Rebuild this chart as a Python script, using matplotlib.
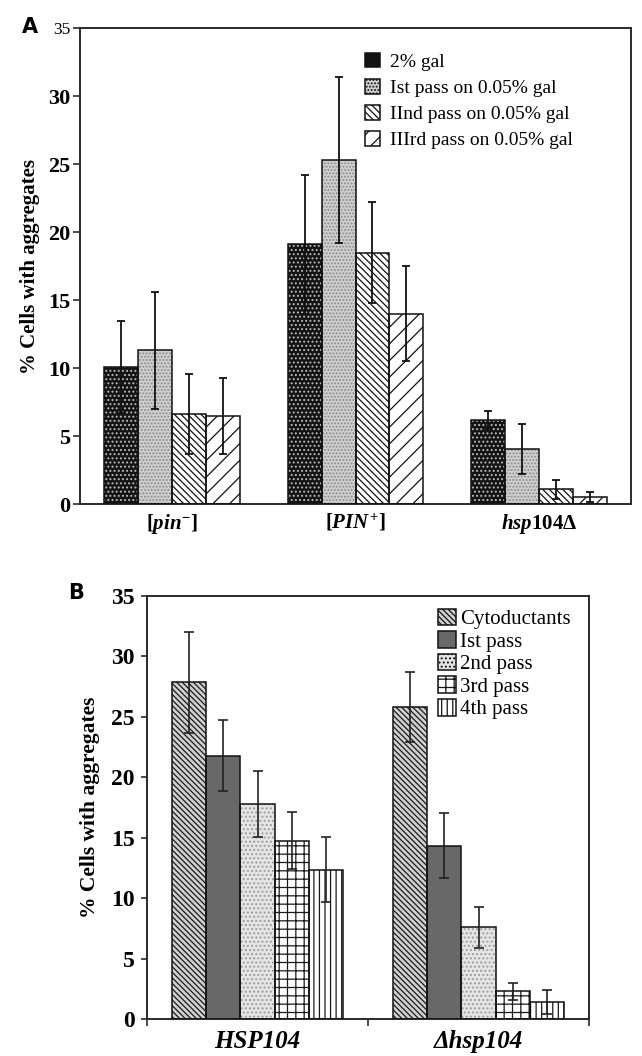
import matplotlib
matplotlib.use("Agg")
import matplotlib.pyplot as plt
import numpy as np

plt.rcParams['font.family'] = ['Liberation Serif', 'DejaVu Serif']
plt.rcParams['mathtext.fontset'] = 'custom'
plt.rcParams['mathtext.rm'] = 'Liberation Serif:bold'
plt.rcParams['mathtext.it'] = 'Liberation Serif:bold:italic'
plt.rcParams['mathtext.bf'] = 'Liberation Serif:bold'
plt.rcParams['hatch.linewidth'] = 0.9

# ---------------- Panel A data ----------------
a_groups = [r'[$\mathit{pin}^{-}$]', r'[$\mathit{PIN}^{+}$]', r'$\mathit{hsp104}$Δ']
a_series = ['2% gal', 'Ist pass on 0.05% gal', 'IInd pass on 0.05% gal', 'IIIrd pass on 0.05% gal']
a_gal2 = [10.1, 19.1, 6.2]
a_gal2_err = [3.4, 5.1, 0.65]
a_pass1 = [11.3, 25.3, 4.05]
a_pass1_err = [4.3, 6.1, 1.85]
a_pass2 = [6.65, 18.5, 1.1]
a_pass2_err = [2.95, 3.7, 0.7]
a_pass3 = [6.5, 14.0, 0.5]
a_pass3_err = [2.8, 3.5, 0.35]

# ---------------- Panel B data ----------------
b_groups = ['HSP104', 'Δhsp104']
b_series = ['Cytoductants', 'Ist pass', '2nd pass', '3rd pass', '4th pass']
b_cyto = [27.85, 25.8]
b_cyto_err = [4.2, 2.9]
b_p1 = [21.8, 14.35]
b_p1_err = [2.9, 2.7]
b_p2 = [17.8, 7.6]
b_p2_err = [2.7, 1.7]
b_p3 = [14.75, 2.3]
b_p3_err = [2.35, 0.7]
b_p4 = [12.35, 1.4]
b_p4_err = [2.7, 1.0]

fig = plt.figure(figsize=(6.42, 10.56), dpi=100)

spine_c = '#2a2a2a'

def style_axes(ax):
    for s in ax.spines.values():
        s.set_linewidth(1.4)
        s.set_color(spine_c)

def hbar(ax, x, h, w, fc, hatch, hc, label):
    # fill with hatch (hatch colour = edgecolor), then outline on top
    ax.bar(x, h, w, color=fc, edgecolor=hc, hatch=hatch, linewidth=0, zorder=2)
    ax.bar(x, h, w, color='none', edgecolor='#111111', linewidth=1.1, zorder=3)
    return plt.Rectangle((0, 0), 1, 1, facecolor=fc, edgecolor='#111111',
                         hatch=hatch, linewidth=1.1, label=label)

# ===== Panel A =====
axA = fig.add_axes([80/642, 1-504/1056, 551/642, 475.7/1056])
style_axes(axA)
xa = np.arange(len(a_groups))
wa = 0.185
a_vals = [a_gal2, a_pass1, a_pass2, a_pass3]
a_errs = [a_gal2_err, a_pass1_err, a_pass2_err, a_pass3_err]
a_styles = [('#141414', '....', '#bbbbbb'),
            ('#cfcfcf', '.....', '#8a8a8a'),
            ('white', '\\\\\\\\\\', '#111111'),
            ('white', '//', '#111111')]
handlesA = []
for j, (vals, errs, st, lab) in enumerate(zip(a_vals, a_errs, a_styles, a_series)):
    xx = xa + (j - 1.5) * wa
    fc, ht, hc = st
    handlesA.append(hbar(axA, xx, vals, wa, fc, ht, hc, lab))
    axA.errorbar(xx, vals, yerr=errs, fmt='none', ecolor='#111111',
                 elinewidth=1.3, capsize=3.2, capthick=1.3, zorder=4)
axA.set_xlim(-0.5, 2.5)
axA.set_ylim(0, 35)
axA.set_yticks([0, 5, 10, 15, 20, 25, 30, 35])
axA.set_yticklabels(['0', '5', '10', '15', '20', '25', '30', '35'],
                    fontsize=16, fontweight='bold')
axA.get_yticklabels()[-1].set_fontsize(12.5)
axA.get_yticklabels()[-1].set_fontweight('normal')
axA.tick_params(axis='y', direction='out', length=5, width=1.2, pad=2, color=spine_c)
axA.set_xticks(xa)
axA.set_xticklabels(a_groups, fontsize=15, fontweight='bold')
axA.tick_params(axis='x', length=0, pad=6)
axA.set_ylabel('% Cells with aggregates', fontsize=15, fontweight='bold', labelpad=6)
legA = axA.legend(handles=handlesA, loc='upper left', bbox_to_anchor=(0.5, 0.968),
                  frameon=False, fontsize=14, handlelength=0.75, handleheight=0.75,
                  handletextpad=0.5, labelspacing=0.42, borderpad=0)
fig.text(22/642, 1-33/1056, 'A', fontsize=15, fontweight='bold', family='DejaVu Sans')

# ===== Panel B =====
axB = fig.add_axes([147/642, 1-1019/1056, 442/642, 423/1056])
style_axes(axB)
xb = np.arange(len(b_groups))
wb = 0.154
b_vals = [b_cyto, b_p1, b_p2, b_p3, b_p4]
b_errs = [b_cyto_err, b_p1_err, b_p2_err, b_p3_err, b_p4_err]
b_styles = [('#d0d0d0', '\\\\\\\\\\\\', '#1a1a1a'),
            ('#686868', '', '#686868'),
            ('#e4e4e4', '....', '#9a9a9a'),
            ('white', '++', '#1a1a1a'),
            ('white', '|||', '#1a1a1a')]
handlesB = []
for j, (vals, errs, st, lab) in enumerate(zip(b_vals, b_errs, b_styles, b_series)):
    xx = xb + (j - 2) * wb
    fc, ht, hc = st
    handlesB.append(hbar(axB, xx, vals, wb, fc, ht, hc, lab))
    axB.errorbar(xx, vals, yerr=errs, fmt='none', ecolor='#222222',
                 elinewidth=1.2, capsize=3.6, capthick=1.2, zorder=4)
axB.set_xlim(-0.5, 1.5)
axB.set_ylim(0, 35)
axB.set_yticks([0, 5, 10, 15, 20, 25, 30, 35])
axB.set_yticklabels(['0', '5', '10', '15', '20', '25', '30', '35'],
                    fontsize=17, fontweight='bold')
axB.tick_params(axis='y', direction='out', length=4, width=1.2, pad=5, color=spine_c)
axB.set_xticks([-0.5, 0.5, 1.5])
axB.set_xticklabels(['', '', ''])
axB.tick_params(axis='x', direction='out', length=5, width=1.2, color=spine_c)
for xg, lab in zip(xb, b_groups):
    axB.text(xg, -0.9, lab, transform=axB.transData,
             ha='center', va='top', fontsize=18, fontweight='bold', fontstyle='italic')
axB.set_ylabel('% Cells with aggregates', fontsize=15.5, fontweight='bold', labelpad=8)
legB = axB.legend(handles=handlesB, loc='upper left', bbox_to_anchor=(0.635, 0.995),
                  frameon=False, fontsize=15, handlelength=0.85, handleheight=0.85,
                  handletextpad=0.2, labelspacing=0.1, borderpad=0)
fig.text(68/642, 1-599/1056, 'B', fontsize=15, fontweight='bold', family='DejaVu Sans')

fig.savefig('out.png', dpi=100)
